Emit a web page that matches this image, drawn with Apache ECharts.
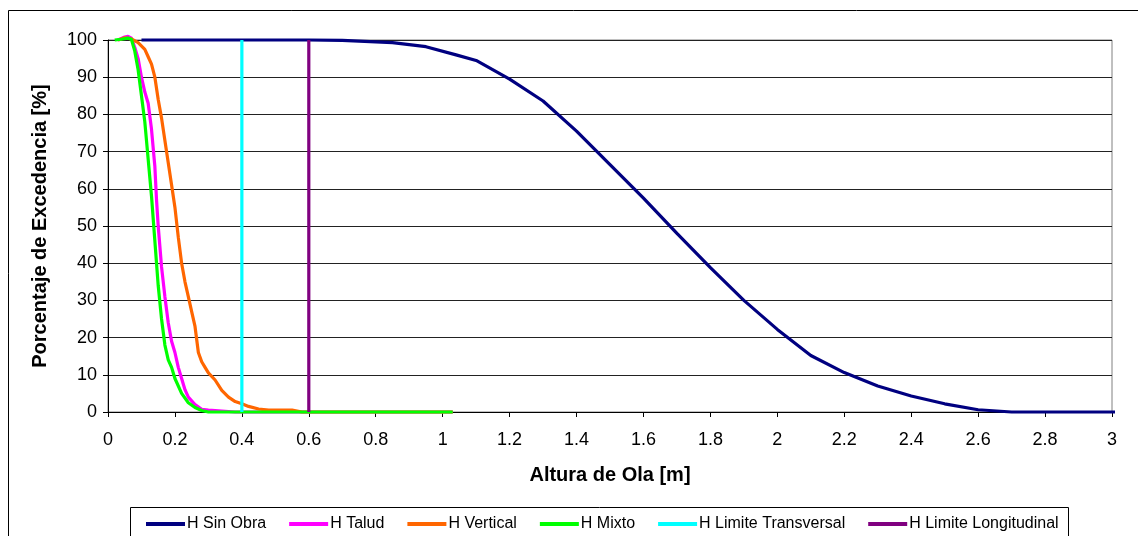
<!DOCTYPE html>
<html>
<head>
<meta charset="utf-8">
<script src="https://cdn.jsdelivr.net/npm/echarts@6/dist/echarts.min.js"></script>
<style>html,body{margin:0;padding:0;background:#fff;}#c{width:1138px;height:536px;}</style>
</head>
<body>
<div id="c"></div>
<script>
// Series names
const seriesNames = ['H Sin Obra', 'H Talud', 'H Vertical', 'H Mixto', 'H Limite Transversal', 'H Limite Longitudinal'];

// [Altura de Ola (m), Porcentaje de Excedencia (%)]
const hSinObra = [[0.1,100],[0.2,100],[0.3,100],[0.4,100],[0.5,100],[0.6,100],[0.7,99.9],[0.85,99.3],[0.95,98.2],[1.04,96],[1.1,94.5],[1.2,89.5],[1.3,83.6],[1.4,75.5],[1.5,66.5],[1.6,57.5],[1.7,48],[1.8,38.8],[1.9,30],[2.0,22.2],[2.1,15.2],[2.2,10.6],[2.3,7],[2.4,4.3],[2.5,2.2],[2.6,0.6],[2.7,0],[2.8,0],[2.9,0],[3.02,0]];

const hTalud = [[0.03,100],[0.05,100.8],[0.06,101],[0.07,100.5],[0.08,98],[0.09,95],[0.10,90],[0.11,86],[0.12,83],[0.13,76],[0.14,66],[0.145,57],[0.15,50],[0.16,39],[0.17,31],[0.18,24],[0.19,19],[0.20,16],[0.21,12],[0.22,9],[0.23,6],[0.24,4],[0.26,2],[0.28,0.7],[0.30,0.5],[0.32,0.4],[0.35,0.2],[0.38,0],[0.6,0],[1.03,0]];

const hVertical = [[0.03,100],[0.05,100.6],[0.07,100.3],[0.09,99.3],[0.11,97.5],[0.12,95.5],[0.13,93.5],[0.14,90],[0.15,84],[0.16,79],[0.17,73],[0.18,67],[0.19,61],[0.20,55],[0.21,47],[0.22,40],[0.23,35],[0.24,31],[0.25,27],[0.26,23],[0.27,16],[0.28,13.5],[0.29,12],[0.30,10.5],[0.32,8.6],[0.34,5.8],[0.36,4],[0.38,2.8],[0.40,2.2],[0.42,1.5],[0.45,0.8],[0.48,0.5],[0.55,0.5],[0.58,0],[1.03,0]];

const hMixto = [[0.02,100],[0.04,100.2],[0.06,100.5],[0.07,100.2],[0.08,97],[0.09,92],[0.10,85],[0.11,78],[0.12,68],[0.13,58],[0.14,46],[0.15,34],[0.16,25],[0.17,18],[0.18,14],[0.19,12],[0.20,9],[0.22,5],[0.24,2.5],[0.26,1.2],[0.28,0.4],[0.30,0],[0.5,0],[0.8,0],[1.03,0]];

const hLimiteTransversal = [[0.4,0],[0.4,100]];
const hLimiteLongitudinal = [[0.6,0],[0.6,100]];

const colors = ['#000080', '#FF00FF', '#FF6600', '#00FF00', '#00FFFF', '#800080'];
const seriesData = [hSinObra, hTalud, hVertical, hMixto, hLimiteTransversal, hLimiteLongitudinal];

const FONT = 'Arial, "Liberation Sans", sans-serif';

const chart = echarts.init(document.getElementById('c'), null, {renderer: 'canvas'});
chart.setOption({
  animation: false,
  backgroundColor: '#fff',
  grid: {left: 108, top: 40, right: 26, bottom: 124, show: true, borderColor: '#808080', borderWidth: 1, backgroundColor: 'transparent'},
  xAxis: {
    type: 'value', min: 0, max: 3, interval: 0.2,
    name: 'Altura de Ola [m]', nameLocation: 'middle', nameGap: 53,
    nameTextStyle: {fontFamily: FONT, fontSize: 20, fontWeight: 'bold', color: '#000'},
    axisLine: {show: true, onZero: false, lineStyle: {color: '#000', width: 1}},
    axisTick: {show: true, inside: false, length: 5, lineStyle: {color: '#000'}},
    axisLabel: {fontFamily: FONT, fontSize: 18, color: '#000', margin: 19},
    splitLine: {show: false}
  },
  yAxis: {
    type: 'value', min: 0, max: 100, interval: 10,
    name: 'Porcentaje de Excedencia [%]', nameLocation: 'middle', nameGap: 58,
    nameTextStyle: {fontFamily: FONT, fontSize: 20, fontWeight: 'bold', color: '#000'},
    axisLine: {show: true, lineStyle: {color: '#000', width: 1}},
    axisTick: {show: true, inside: false, length: 5, lineStyle: {color: '#000'}},
    axisLabel: {fontFamily: FONT, fontSize: 18, color: '#000', margin: 11},
    splitLine: {show: true, lineStyle: {color: '#222', width: 1}}
  },
  legend: {
    left: 141, top: 511,
    itemWidth: 39, itemHeight: 4, itemGap: 23,
    icon: 'rect',
    textStyle: {fontFamily: FONT, fontSize: 16, color: '#000', padding: [0,0,0,-3]},
    data: seriesNames
  },
  graphic: [
    {type: 'rect', shape: {x: 8.5, y: 10.5, width: 1140, height: 540}, style: {fill: 'none', stroke: '#000', lineWidth: 1}, silent: true, z: 0},
    {type: 'rect', shape: {x: 130.5, y: 507.5, width: 938, height: 40}, style: {fill: 'none', stroke: '#000', lineWidth: 1}, silent: true, z: 0}
  ],
  series: seriesNames.map((n, i) => ({
    name: n, type: 'line', data: seriesData[i],
    showSymbol: false, symbol: 'none', clip: false,
    lineStyle: {color: colors[i], width: 3.2},
    itemStyle: {color: colors[i]},
    z: 2 + i
  }))
});
</script>
</body>
</html>
